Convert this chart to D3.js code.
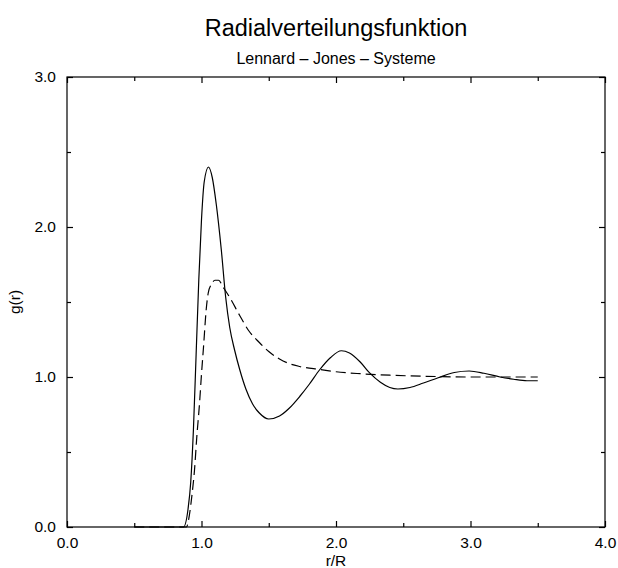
<!DOCTYPE html>
<html>
<head>
<meta charset="utf-8">
<script src="https://cdn.jsdelivr.net/npm/d3@7"></script>
<style>
  body { margin: 0; background: #fff; }
  text { font-family: "Liberation Sans", Arial, Helvetica, sans-serif; fill: #000; }
</style>
</head>
<body>
<svg id="chart"></svg>
<script>
// g(r) curves
var rSolid = [0.5, 0.80, 0.866, 0.90, 0.92, 0.94, 0.96, 0.98, 1.0, 1.02, 1.052, 1.08, 1.11, 1.147, 1.18, 1.21, 1.246, 1.284,
              1.33, 1.38, 1.43, 1.5, 1.58, 1.65, 1.73, 1.80, 1.88, 1.96, 2.04, 2.10, 2.18, 2.25, 2.33, 2.40, 2.46,
              2.55, 2.65, 2.76, 2.88, 2.99, 3.10, 3.22, 3.32, 3.42, 3.5];
var gSolid = [0, 0, 0, 0.12, 0.3, 0.65, 1.15, 1.65, 2.05, 2.3, 2.40, 2.33, 2.15, 1.85, 1.53, 1.33, 1.18, 1.05,
              0.92, 0.82, 0.76, 0.72, 0.74, 0.79, 0.87, 0.95, 1.05, 1.13, 1.175, 1.16, 1.10, 1.027, 0.965, 0.93, 0.92,
              0.93, 0.96, 0.995, 1.03, 1.04, 1.025, 1.0, 0.985, 0.975, 0.975];

var rDashed = [0.5, 0.80, 0.888, 0.91, 0.93, 0.948, 0.965, 0.985, 1.0, 1.015, 1.035, 1.05, 1.075, 1.10, 1.127, 1.16, 1.21,
               1.284, 1.35, 1.43, 1.5, 1.58, 1.65, 1.73, 1.88, 2.0, 2.18, 2.4, 2.76, 3.0, 3.5];
var gDashed = [0, 0, 0, 0.08, 0.22, 0.38, 0.6, 0.82, 1.02, 1.2, 1.45, 1.56, 1.62, 1.645, 1.645, 1.6, 1.53,
               1.41, 1.31, 1.23, 1.17, 1.12, 1.09, 1.07, 1.05, 1.035, 1.022, 1.012, 1.003, 1.0, 1.0];

var xTicks = [0, 1, 2, 3, 4];
var yTicks = [0, 1, 2, 3];
var xMinor = [0.5, 1.5, 2.5, 3.5];
var yMinor = [0.5, 1.5, 2.5];

var width = 618,
    height = 568;
var margin = {top: 77, right: 13, bottom: 41, left: 67};

var svg = d3.select("#chart")
    .attr("width", width)
    .attr("height", height);

var x = d3.scaleLinear().domain([0, 4]).range([margin.left, width - margin.right]);
var y = d3.scaleLinear().domain([0, 3]).range([height - margin.bottom, margin.top]);

// frame
svg.append("rect")
    .attr("x", x(0))
    .attr("y", y(3))
    .attr("width", x(4) - x(0))
    .attr("height", y(0) - y(3))
    .attr("fill", "none")
    .attr("stroke", "#000")
    .attr("stroke-width", 1.2);

var fmt = d3.format(".1f");

// ticks inward on all four sides
function ticks(axis, scale, vals, size, labels) {
  return axis(scale)
      .tickValues(vals)
      .tickSizeInner(-size)
      .tickSizeOuter(0)
      .tickFormat(labels ? fmt : "");
}

var gBottom = svg.append("g").attr("transform", "translate(0," + y(0) + ")");
gBottom.call(ticks(d3.axisBottom, x, xTicks, 6, true));
gBottom.append("g").call(ticks(d3.axisBottom, x, xMinor, 4, false));

var gTop = svg.append("g").attr("transform", "translate(0," + y(3) + ")");
gTop.call(ticks(d3.axisTop, x, xTicks, 6, false));
gTop.append("g").call(ticks(d3.axisTop, x, xMinor, 4, false));

var gLeft = svg.append("g").attr("transform", "translate(" + x(0) + ",0)");
gLeft.call(ticks(d3.axisLeft, y, yTicks, 6, true));
gLeft.append("g").call(ticks(d3.axisLeft, y, yMinor, 4, false));

var gRight = svg.append("g").attr("transform", "translate(" + x(4) + ",0)");
gRight.call(ticks(d3.axisRight, y, yTicks, 6, false));
gRight.append("g").call(ticks(d3.axisRight, y, yMinor, 4, false));

svg.selectAll(".domain").remove();
svg.selectAll(".tick line").attr("stroke", "#000").attr("stroke-width", 1.2);
svg.selectAll(".tick text").style("font-size", "15.5px").style("font-family", "'Liberation Sans', Arial, sans-serif");
gBottom.selectAll(".tick text").attr("y", 10);
gLeft.selectAll(".tick text").attr("x", -11);

// curves
var line = d3.line()
    .x(function(d) { return x(d[0]); })
    .y(function(d) { return y(d[1]); })
    .curve(d3.curveMonotoneX);

svg.append("path")
    .datum(d3.zip(rDashed, gDashed))
    .attr("d", line)
    .attr("fill", "none")
    .attr("stroke", "#000")
    .attr("stroke-width", 1.2)
    .attr("stroke-dasharray", "10,5");

svg.append("path")
    .datum(d3.zip(rSolid, gSolid))
    .attr("d", line)
    .attr("fill", "none")
    .attr("stroke", "#000")
    .attr("stroke-width", 1.2);

// titles
svg.append("text")
    .attr("x", (x(0) + x(4)) / 2)
    .attr("y", 36)
    .attr("text-anchor", "middle")
    .style("font-size", "23.5px")
    .text("Radialverteilungsfunktion");

svg.append("text")
    .attr("x", (x(0) + x(4)) / 2)
    .attr("y", 64)
    .attr("text-anchor", "middle")
    .style("font-size", "16px")
    .text("Lennard \u2013 Jones \u2013 Systeme");

svg.append("text")
    .attr("x", (x(0) + x(4)) / 2)
    .attr("y", 566)
    .attr("text-anchor", "middle")
    .style("font-size", "15.5px")
    .text("r/R");

svg.append("text")
    .attr("transform", "translate(20," + (y(0) + y(3)) / 2 + ") rotate(-90)")
    .attr("text-anchor", "middle")
    .style("font-size", "15.5px")
    .text("g(r)");
</script>
</body>
</html>
